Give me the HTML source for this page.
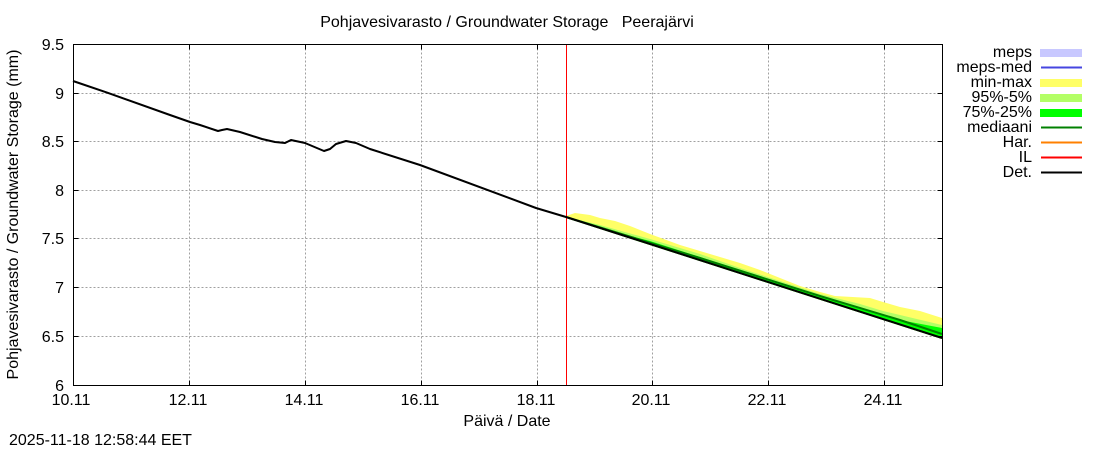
<!DOCTYPE html>
<html><head><meta charset="utf-8"><style>
html,body{margin:0;padding:0;background:#fff;}
svg{display:block;}
text{font-family:"Liberation Sans",Arial,sans-serif;font-size:16px;fill:#000;}
</style></head><body>
<svg width="1100" height="450" viewBox="0 0 1100 450" xmlns="http://www.w3.org/2000/svg">
<rect x="0" y="0" width="1100" height="450" fill="#fff"/>
<!-- grid -->
<g stroke="#a0a0a0" stroke-width="1" stroke-dasharray="2,2" fill="none">
<line x1="73.5" y1="93.5" x2="942.5" y2="93.5"/>
<line x1="73.5" y1="141.5" x2="942.5" y2="141.5"/>
<line x1="73.5" y1="190.5" x2="942.5" y2="190.5"/>
<line x1="73.5" y1="238.5" x2="942.5" y2="238.5"/>
<line x1="73.5" y1="287.5" x2="942.5" y2="287.5"/>
<line x1="73.5" y1="336.5" x2="942.5" y2="336.5"/>
<line x1="189.5" y1="44.5" x2="189.5" y2="385.5"/>
<line x1="305.5" y1="44.5" x2="305.5" y2="385.5"/>
<line x1="421.5" y1="44.5" x2="421.5" y2="385.5"/>
<line x1="537.5" y1="44.5" x2="537.5" y2="385.5"/>
<line x1="652.5" y1="44.5" x2="652.5" y2="385.5"/>
<line x1="768.5" y1="44.5" x2="768.5" y2="385.5"/>
<line x1="884.5" y1="44.5" x2="884.5" y2="385.5"/>
</g>
<!-- bands -->
<polygon fill="#ffff66" points="566,216 575,213 590,215 600,218 615,221 630,226 650,234 680,245 720,257 740,263 760,270 780,278 800,286 820,292 835,296 870,298 883,302 900,307 920,311 942,318 942,339 566,218"/>
<polygon fill="#b3ff66" points="566,217 600,225 650,239 700,254 740,268 780,281 820,294 860,304 883,311 900,315 942,325 942,339 566,218"/>
<polygon fill="#00ff00" points="566,217 600,228 650,241 700,257 740,271 780,283 820,296 860,308 883,315 900,320 942,328 942,339 566,218"/>
<polyline fill="none" stroke="#008000" stroke-width="2" points="566,217 700,258 820,296 900,320 942,334"/>
<!-- red IL vertical -->
<line x1="566.5" y1="44.5" x2="566.5" y2="385.5" stroke="#ff0000" stroke-width="1"/>
<!-- det line -->
<polyline fill="none" stroke="#000" stroke-width="2" stroke-linejoin="round" points="73,81 107,92.6 170,115 190,122 200,125 218,131 222,130 227,129 240,132 262,139 275,142 285,143 291,140 305,143 324,151 330,149 336,144 346,141 356,143 370,149 420,165 536,208 566,217 942,338"/>
<!-- frame -->
<rect x="73.5" y="44.5" width="869" height="341" fill="none" stroke="#000" stroke-width="1"/>
<!-- ticks -->
<g stroke="#000" stroke-width="1">
<line x1="73.5" y1="93.5" x2="78.5" y2="93.5"/><line x1="937.5" y1="93.5" x2="942.5" y2="93.5"/>
<line x1="73.5" y1="141.5" x2="78.5" y2="141.5"/><line x1="937.5" y1="141.5" x2="942.5" y2="141.5"/>
<line x1="73.5" y1="190.5" x2="78.5" y2="190.5"/><line x1="937.5" y1="190.5" x2="942.5" y2="190.5"/>
<line x1="73.5" y1="238.5" x2="78.5" y2="238.5"/><line x1="937.5" y1="238.5" x2="942.5" y2="238.5"/>
<line x1="73.5" y1="287.5" x2="78.5" y2="287.5"/><line x1="937.5" y1="287.5" x2="942.5" y2="287.5"/>
<line x1="73.5" y1="336.5" x2="78.5" y2="336.5"/><line x1="937.5" y1="336.5" x2="942.5" y2="336.5"/>
<line x1="189.5" y1="380.5" x2="189.5" y2="385.5"/><line x1="189.5" y1="44.5" x2="189.5" y2="49.5"/>
<line x1="305.5" y1="380.5" x2="305.5" y2="385.5"/><line x1="305.5" y1="44.5" x2="305.5" y2="49.5"/>
<line x1="421.5" y1="380.5" x2="421.5" y2="385.5"/><line x1="421.5" y1="44.5" x2="421.5" y2="49.5"/>
<line x1="537.5" y1="380.5" x2="537.5" y2="385.5"/><line x1="537.5" y1="44.5" x2="537.5" y2="49.5"/>
<line x1="652.5" y1="380.5" x2="652.5" y2="385.5"/><line x1="652.5" y1="44.5" x2="652.5" y2="49.5"/>
<line x1="768.5" y1="380.5" x2="768.5" y2="385.5"/><line x1="768.5" y1="44.5" x2="768.5" y2="49.5"/>
<line x1="884.5" y1="380.5" x2="884.5" y2="385.5"/><line x1="884.5" y1="44.5" x2="884.5" y2="49.5"/>
</g>
<!-- y labels -->
<g text-anchor="end">
<text x="64" y="50">9.5</text>
<text x="64" y="99">9</text>
<text x="64" y="147">8.5</text>
<text x="64" y="196">8</text>
<text x="64" y="244">7.5</text>
<text x="64" y="293">7</text>
<text x="64" y="342">6.5</text>
<text x="64" y="391">6</text>
</g>
<!-- x labels -->
<g text-anchor="middle">
<text x="71" y="405">10.11</text>
<text x="188" y="405">12.11</text>
<text x="304" y="405">14.11</text>
<text x="420" y="405">16.11</text>
<text x="536" y="405">18.11</text>
<text x="651" y="405">20.11</text>
<text x="767" y="405">22.11</text>
<text x="883" y="405">24.11</text>
</g>
<text x="507" y="27" text-anchor="middle" xml:space="preserve">Pohjavesivarasto / Groundwater Storage   Peerajärvi</text>
<text x="507" y="426" text-anchor="middle">Päivä / Date</text>
<text x="9" y="445">2025-11-18 12:58:44 EET</text>
<text transform="translate(18,214.5) rotate(-90)" text-anchor="middle">Pohjavesivarasto / Groundwater Storage (mm)</text>
<!-- legend -->
<g text-anchor="end">
<text x="1032" y="57">meps</text>
<text x="1032" y="72">meps-med</text>
<text x="1032" y="87">min-max</text>
<text x="1032" y="102">95%-5%</text>
<text x="1032" y="117">75%-25%</text>
<text x="1032" y="132">mediaani</text>
<text x="1032" y="147">Har.</text>
<text x="1032" y="162">IL</text>
<text x="1032" y="177">Det.</text>
</g>
<rect x="1040" y="49" width="42" height="8" fill="#c8c8ff"/>
<line x1="1041" y1="67.5" x2="1082" y2="67.5" stroke="#4646e0" stroke-width="2"/>
<rect x="1040" y="79" width="42" height="8" fill="#ffff66"/>
<rect x="1040" y="94" width="42" height="8" fill="#b3ff66"/>
<rect x="1040" y="109" width="42" height="8" fill="#00ff00"/>
<line x1="1041" y1="127.5" x2="1082" y2="127.5" stroke="#008000" stroke-width="2"/>
<line x1="1041" y1="142.5" x2="1082" y2="142.5" stroke="#ff8000" stroke-width="2"/>
<line x1="1041" y1="157.5" x2="1082" y2="157.5" stroke="#ff0000" stroke-width="2"/>
<line x1="1041" y1="172.5" x2="1082" y2="172.5" stroke="#000" stroke-width="2"/>
</svg>
</body></html>
